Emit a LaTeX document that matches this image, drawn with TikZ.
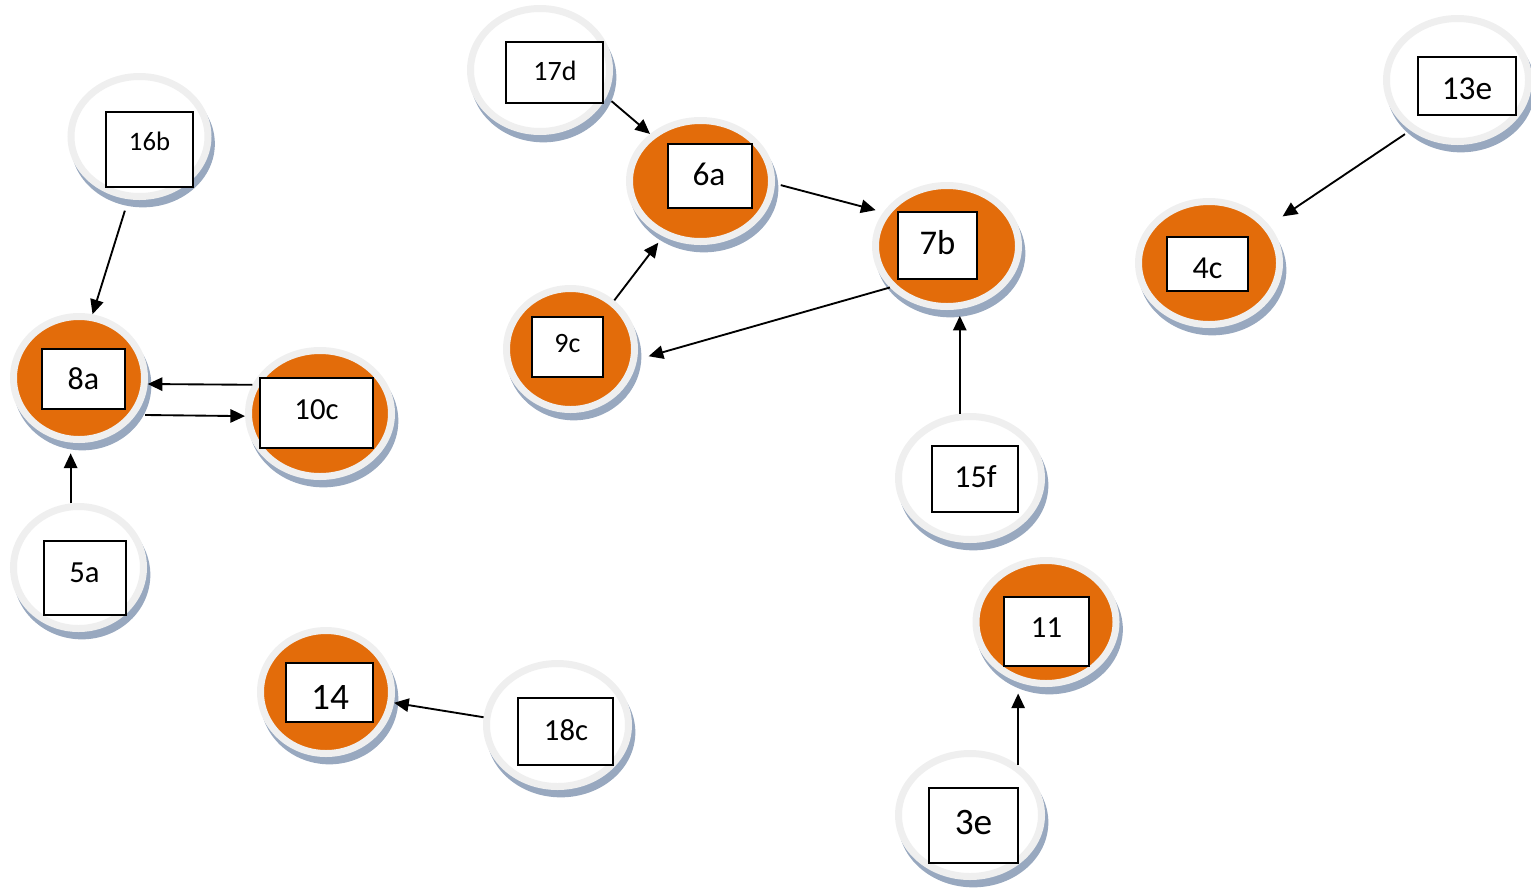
\documentclass[tikz,border=0pt]{standalone}
\usepackage{fontspec}
\setmainfont{Carlito}
\usetikzlibrary{shapes.geometric,shadows,arrows.meta}
\definecolor{ringgrey}{HTML}{EFEFEF}
\definecolor{nodeorange}{HTML}{E36C0A}
\definecolor{shblue}{HTML}{98A8BF}
\tikzset{
  bub/.style={ellipse, inner sep=0pt, outer sep=2.625pt, draw=ringgrey, line width=5.25pt,
    drop shadow={shadow xshift=2.5pt, shadow yshift=-5.5pt, fill=shblue, draw=shblue, line width=5.25pt, opacity=1}},
  hot/.style={bub, fill=nodeorange},
  cold/.style={bub, fill=white},
  lbl/.style={rectangle, draw=black, fill=white, line width=1.2pt, inner sep=0pt},
  txt/.style={inner sep=0pt, text=black},
  conn/.style={line width=1.4pt, -{Triangle[length=11pt,width=10pt]}},
}
\newcommand{\fs}[1]{\fontsize{#1}{#1}\selectfont}
\begin{document}
\begin{tikzpicture}[x=0.75pt,y=-0.75pt]
\useasboundingbox (0,0) rectangle (1531,893);
% bubbles
\node[cold, minimum width=102.75pt, minimum height=90pt]    (b16b) at (139.5,136.5) {};
\node[hot,  minimum width=98.25pt,  minimum height=92.25pt] (b8a)  at (79,378) {};
\node[hot,  minimum width=107.25pt, minimum height=94.5pt]  (b10c) at (320,413.5) {};
\node[cold, minimum width=97.5pt,   minimum height=91.5pt]  (b5a)  at (78.5,567.5) {};
\node[cold, minimum width=104.25pt, minimum height=92.25pt] (b17d) at (540,70) {};
\node[hot,  minimum width=106.5pt,  minimum height=90.75pt] (b6a)  at (700.5,181) {};
\node[hot,  minimum width=107.25pt, minimum height=90.75pt] (b7b)  at (947,246) {};
\node[hot,  minimum width=96pt,     minimum height=90.75pt] (b9c)  at (570.5,349) {};
\node[cold, minimum width=106.5pt,  minimum height=92.25pt] (b13e) at (1457.5,80) {};
\node[hot,  minimum width=105.75pt, minimum height=92.25pt] (b4c)  at (1209,263) {};
\node[cold, minimum width=107.25pt, minimum height=92.25pt] (b15f) at (970,478) {};
\node[hot,  minimum width=105pt,    minimum height=92.25pt] (b11)  at (1046,622) {};
\node[cold, minimum width=107.25pt, minimum height=92.25pt] (b3e)  at (970,815) {};
\node[hot,  minimum width=98.25pt,  minimum height=92.25pt] (b14)  at (326,692) {};
\node[cold, minimum width=106.5pt,  minimum height=92.25pt] (b18c) at (557.5,725) {};
% boxes
\node[lbl, minimum width=65.25pt, minimum height=56.25pt] (k16b) at (149.5,149.5) {};
\node[lbl, minimum width=62.25pt, minimum height=45pt]    (k8a)  at (83.5,379) {};
\node[lbl, minimum width=84.75pt, minimum height=52.5pt]  (k10c) at (316.5,413) {};
\node[lbl, minimum width=61.5pt,  minimum height=55.5pt]  (k5a)  at (85,578) {};
\node[lbl, minimum width=72.75pt, minimum height=45.75pt] (k17d) at (554.5,72.5) {};
\node[lbl, minimum width=63pt,    minimum height=48pt]    (k6a)  at (710,176) {};
\node[lbl, minimum width=59.25pt, minimum height=50.25pt] (k7b)  at (937.5,245.5) {};
\node[lbl, minimum width=53.25pt, minimum height=45pt]    (k9c)  at (567.5,347) {};
\node[lbl, minimum width=73.5pt,  minimum height=43.5pt]  (k13e) at (1467,86) {};
\node[lbl, minimum width=60.75pt, minimum height=40.5pt]  (k4c)  at (1207.5,264) {};
\node[lbl, minimum width=64.5pt,  minimum height=49.5pt]  (k15f) at (975,479) {};
\node[lbl, minimum width=63.75pt, minimum height=51.75pt] (k11)  at (1046.5,631.5) {};
\node[lbl, minimum width=66.75pt, minimum height=56.25pt] (k3e)  at (973.5,825.5) {};
\node[lbl, minimum width=65.25pt, minimum height=44.25pt] (k14)  at (329.5,692.5) {};
\node[lbl, minimum width=71.25pt, minimum height=50.25pt] (k18c) at (565.5,731.5) {};
% texts
\node[txt, font=\fs{20}] (t16b) at (149.5,141.7) {16b};
\node[txt, font=\fs{24}] (t8a)  at (83.5,379) {8a};
\node[txt, font=\fs{23}] (t10c) at (316.5,410) {10c};
\node[txt, font=\fs{23}] (t5a)  at (84.5,573) {5a};
\node[txt, font=\fs{21}] (t17d) at (555,70.5) {17d};
\node[txt, font=\fs{25}] (t6a)  at (709,174) {6a};
\node[txt, font=\fs{26}] (t7b)  at (937.5,243) {7b};
\node[txt, font=\fs{21}] (t9c)  at (567.5,344) {9c};
\node[txt, font=\fs{25}] (t13e) at (1467,89) {13e};
\node[txt, font=\fs{24}] (t4c)  at (1207.5,268) {4c};
\node[txt, font=\fs{24}] (t15f) at (975.5,477) {15f};
\node[txt, font=\fs{23}] (t11)  at (1046.5,628) {11};
\node[txt, font=\fs{28}] (t3e)  at (973.5,822.7) {3e};
\node[txt, font=\fs{28}] (t14)  at (330,697.5) {14};
\node[txt, font=\fs{23}] (t18c) at (566,730) {18c};
% connectors
\draw[conn, shorten <=9pt] (b16b.-100.9) -- (b8a.78.7);
\draw[conn] (b10c.157.4) -- (b8a.-5);
\draw[conn, shorten <=7pt] (b8a.-33) -- (b10c.182);
\draw[conn, shorten >=8pt] (b5a.97.7) -- (b5a.97.7 |- b8a.-96.8);
\draw[conn, shorten <=5pt] (b17d.-22.3) -- (b6a.137.6);
\draw[conn, shorten <=4.5pt, shorten >=6pt] (b6a.-2.1) -- (b7b.152.2);
\draw[conn, shorten >=9pt] (b7b.216.3) -- (b9c.-9.3);
\draw[conn, shorten >=6pt] (b9c.48.6) -- (b6a.236.2);
\draw[conn, shorten >=5pt] (b15f.99.6) -- (b15f.99.6 |- b7b.-79.4);
\draw[conn, shorten <=5pt, shorten >=12pt] (b13e.-133.7) -- (b4c.32.8);
\draw[conn] (b18c.174.3) -- (b14.-9.6);
\draw[conn, shorten >=8pt] (b3e.46.2) -- (b3e.46.2 |- b11.-113.3);
\end{tikzpicture}
\end{document}
